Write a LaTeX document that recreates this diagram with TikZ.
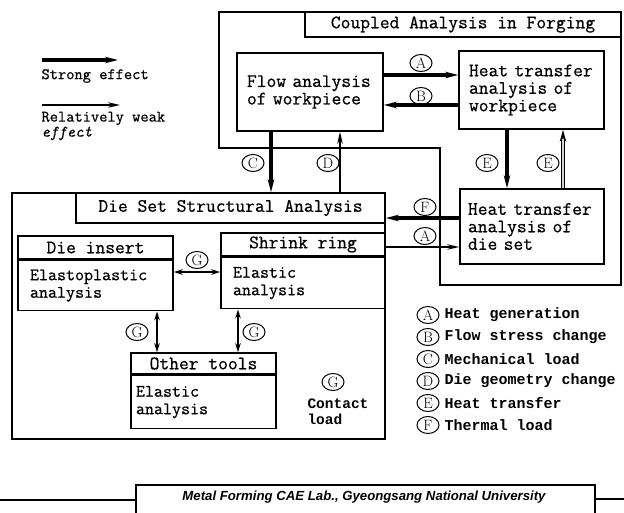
\documentclass[tikz,border=0pt]{standalone}
\usepackage{fontspec}
\newfontfamily\boxfont{Latin Modern Mono}[FakeBold=0.7]
\newfontfamily\boldmono{Liberation Mono}
\newfontfamily\labfont{Liberation Sans}
\usetikzlibrary{arrows.meta, calc, shapes.geometric}

\begin{document}
\begin{tikzpicture}[x=1pt,y=-1pt,
		every node/.style={font=\fontsize{19}{17.5}\selectfont\boxfont},
		box/.style={draw,line width=1.6pt,align=left,inner xsep=10pt,inner ysep=0pt},
		hdbox/.style={draw,line width=1.6pt,align=center,inner sep=0pt},
		subbox/.style={box,inner xsep=12pt,font=\fontsize{17.5}{17.5}\selectfont\boxfont},
		circ/.style={ellipse,draw,line width=1pt,inner sep=0pt,minimum width=22pt,minimum height=17pt,font=\fontsize{15}{15}\selectfont\rmfamily},
		strong/.style={line width=3.2pt,-{Stealth[length=13pt,width=6.5pt]}},
		weak/.style={line width=1.4pt,-{Stealth[length=12pt,width=5.5pt]}},
		eup/.style={line width=0.9pt,double=gray!35,double distance=1.4pt,-{Stealth[length=12pt,width=6.5pt]}},
		contact/.style={line width=2pt,{Stealth[length=9pt,width=5.5pt]}-{Stealth[length=9pt,width=5.5pt]}},
		legtext/.style={anchor=west,font=\fontsize{15}{15}\selectfont\boldmono\bfseries}]
		\useasboundingbox (0,0) rectangle (624,512);
		
		% legend of arrows
		\coordinate (s1) at (42,60);
		\coordinate (s2) at (118,60);
		\coordinate (w1) at (42,105);
		\coordinate (w2) at (120,105);
		\draw[strong] (s1) -- (s2);
		\draw[weak] (w1) -- (w2);
		\node[anchor=west,font=\fontsize{16}{16}\selectfont\boxfont] (strongtxt) at (38,76) {Strong effect};
		\node[anchor=west,font=\fontsize{16}{15}\selectfont\boxfont,align=left] (weaktxt) at (38,126) {Relatively weak\\\textit{effect}};
		
		% coupled analysis
		\draw[line width=1.6pt] (219,12) -| (621,285) -| (440,148) -- (219,148) -- cycle;
		\node[hdbox,fill=white,minimum width=316pt,minimum height=25pt] (cptitle) at (463,24.5) {Coupled Analysis in Forging};
		\node[box,text width=126pt,minimum height=78pt] (flow) at (310,92) {Flow analysis\\of workpiece};
		\node[box,text width=125pt,minimum height=78pt] (htwp) at (531.5,90) {Heat transfer\\analysis of\\workpiece};
		\node[box,inner xsep=8pt,text width=128pt,minimum height=75pt] (htds) at (532,226.5) {Heat transfer\\analysis of\\die set};
		
		% die set
		\node[draw,line width=1.6pt,minimum width=373pt,minimum height=246pt] (dieset) at (198.5,316) {};
		\node[hdbox,minimum width=309pt,minimum height=30pt] (dstitle) at (230.5,208) {Die Set Structural Analysis};
		\node[hdbox,minimum width=155pt,minimum height=23pt] (dieinsh) at (95.5,247.5) {Die insert};
		\node[subbox,text width=131pt,minimum height=50pt,anchor=north] (dieins) at (dieinsh.south) {Elastoplastic\\analysis};
		\node[hdbox,minimum width=164pt,minimum height=23pt] (shrinkh) at (303,244.5) {Shrink ring};
		\node[subbox,text width=140pt,minimum height=51pt,anchor=north] (shrink) at (shrinkh.south) {Elastic\\analysis};
		\node[hdbox,minimum width=145pt,minimum height=21pt] (otherh) at (203.5,363.5) {Other tools};
		\node[subbox,inner xsep=5pt,text width=135pt,minimum height=53pt,anchor=north] (other) at (otherh.south) {Elastic\\analysis};
		
		% connections
		\draw[strong] (flow.east |- 0,75) -- (htwp.west |- 0,75);
		\draw[strong] (htwp.west |- 0,105) -- (flow.east |- 0,105);
		\draw[strong] (flow.south -| 271,0) -- (dstitle.north -| 271,0);
		\draw[weak] (dstitle.north -| 340,0) -- (flow.south -| 340,0);
		\draw[strong] (htwp.south -| 507,0) -- (htds.north -| 507,0);
		\draw[eup] (htds.north -| 563,0) -- (htwp.south -| 563,0);
		\draw[strong] (htds.west |- 0,218) -- (dieset.east |- 0,218);
		\draw[weak] (dieset.east |- 0,247) -- (htds.west |- 0,247);
		\draw[contact] (dieins.east |- 0,272) -- (shrink.west |- 0,272);
		\draw[contact] (dieins.south -| 157,0) -- (otherh.north -| 157,0);
		\draw[contact] (shrink.south -| 238,0) -- (otherh.north -| 238,0);
		
		% circled marks
		\node[circ] (ca1) at (421,63) {A};
		\node[circ] (cb1) at (421,96) {B};
		\node[circ] (cc1) at (253,163) {C};
		\node[circ] (cd1) at (328,163) {D};
		\node[circ] (ce1) at (487,163) {E};
		\node[circ] (ce2) at (548,163) {E};
		\node[circ] (cf1) at (425,207) {F};
		\node[circ] (ca2) at (425,236) {A};
		\node[circ] (cg1) at (197,260) {G};
		\node[circ] (cg2) at (137,332) {G};
		\node[circ] (cg3) at (254,332) {G};
		\node[circ] (cg4) at (333,382) {G};
		\node[legtext,font=\fontsize{14.5}{16}\selectfont\boldmono\bfseries,align=left] (contxt) at (304,412) {Contact\\load};
		
		% legend of marks
		\foreach \m/\t [count=\i] in {A/Heat generation,B/Flow stress change,C/Mechanical load,D/Die geometry change,E/Heat transfer,F/Thermal load}{
			\node[circ] (leg\i) at (428,{293+22*\i}) {\m};
			\node[legtext] (legt\i) at (441,{293+22*\i}) {\t};
		}
		
		% footer
		\draw[line width=1.6pt] (136,525) |- (595,485) -- (595,525);
		\draw[line width=1.6pt] (0,500) -- (136,500);
		\draw[line width=1.6pt] (595,499) -- (624,499);
		\node[font=\fontsize{13.2}{13.2}\selectfont\labfont\bfseries\itshape] (labtxt) at (364,497) {Metal Forming CAE Lab., Gyeongsang National University};
	\end{tikzpicture}
\end{document}
